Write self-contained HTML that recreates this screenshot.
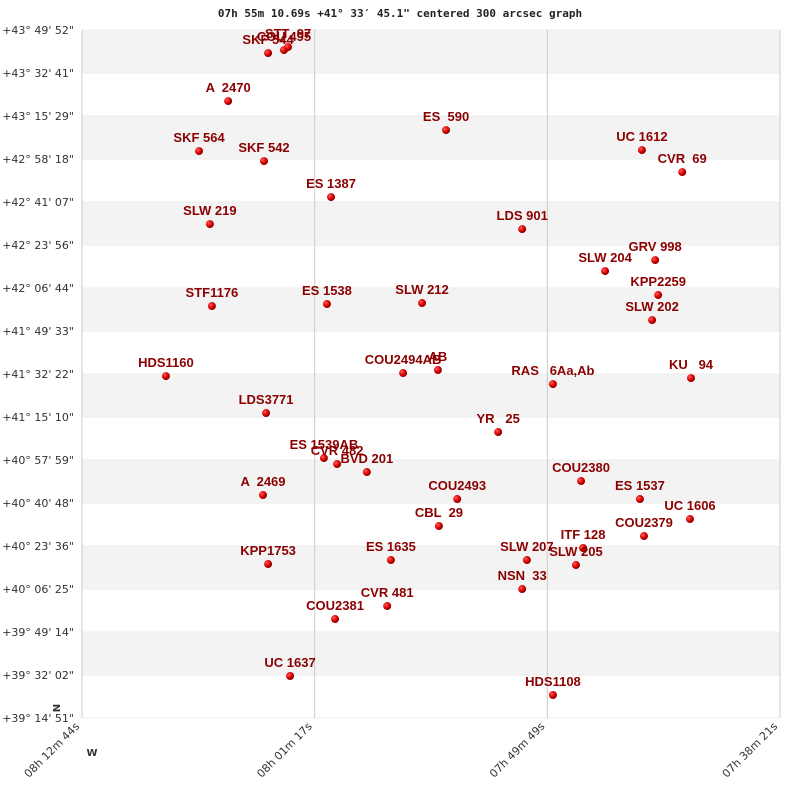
<!DOCTYPE html>
<html><head><meta charset="utf-8"><style>
body{margin:0;background:#fff;width:800px;height:800px;overflow:hidden}
svg text{font-family:"DejaVu Sans","Liberation Sans",sans-serif}
.lbl{font-family:"Liberation Sans",sans-serif;font-weight:bold;font-size:13px;fill:#8b0000;white-space:pre}
.tick{font-size:11px;fill:#333}
</style></head><body>
<svg id="chart" width="800" height="800" xmlns="http://www.w3.org/2000/svg">
<defs><radialGradient id="g" cx="35%" cy="35%" r="65%"><stop offset="0" stop-color="#ff6060"/><stop offset="0.6" stop-color="#dd0000"/><stop offset="1" stop-color="#880000"/></radialGradient></defs>
<text x="400" y="17" text-anchor="middle" style="font-family:'DejaVu Sans Mono','Liberation Mono',monospace;font-weight:bold;font-size:11px" fill="#222">07h 55m 10.69s +41° 33′ 45.1" centered 300 arcsec graph</text>
<g id="bands"></g><g id="grid"></g><g id="marks"></g><g id="labels"></g>
<text x="0" y="0" transform="translate(60,708) rotate(-90)" text-anchor="middle" style="font-size:10px;font-weight:bold" fill="#333">N</text>
<text x="92" y="756" text-anchor="middle" style="font-size:10px;font-weight:bold" fill="#333">W</text>
</svg>
<script>
const yTicks=['+43° 49\' 52"','+43° 32\' 41"','+43° 15\' 29"','+42° 58\' 18"','+42° 41\' 07"','+42° 23\' 56"','+42° 06\' 44"','+41° 49\' 33"','+41° 32\' 22"','+41° 15\' 10"','+40° 57\' 59"','+40° 40\' 48"','+40° 23\' 36"','+40° 06\' 25"','+39° 49\' 14"','+39° 32\' 02"','+39° 14\' 51"'];
const xTicks=['08h 12m 44s','08h 01m 17s','07h 49m 49s','07h 38m 21s'];
const names=['SKF 544','COU 495','STT  97','A  2470','ES  590','UC 1612','CVR  69','SKF 564','SKF 542','ES 1387','SLW 219','LDS 901','GRV 998','SLW 204','KPP2259','SLW 202','STF1176','ES 1538','SLW 212','HDS1160','COU2494AB','AB','RAS   6Aa,Ab','KU   94','LDS3771','YR   25','ES 1539AB','CVR 482','BVD 201','COU2380','A  2469','COU2493','ES 1537','UC 1606','CBL  29','COU2379','ITF 128','SLW 207','SLW 205','KPP1753','ES 1635','NSN  33','CVR 481','COU2381','UC 1637','HDS1108'];
const raOff=[550,597,609,432,1076,1655,1774,346,538,736,378,1301,1694,1546,1703,1685,384,724,1005,248,949,1052,1392,1800,544,1230,715,754,842,1475,535,1109,1649,1797,1055,1661,1481,1315,1460,550,913,1301,902,748,615,1392];
const decOff=[15947,16019,16091,14796,14100,13621,13093,13597,13357,12494,11846,11726,10983,10719,10144,9544,9880,9928,9952,8201,8273,8345,8009,8153,7314,6858,6235,6091,5899,5683,5348,5252,5252,4772,4604,4364,4077,3789,3669,3693,3789,3093,2686,2374,1007,552];
const X0=82,X1=780,Y0=30,Y1=718,RAMAX=2063,DECMAX=16501;
const sx=v=>X0+v/RAMAX*(X1-X0), sy=v=>Y1-v/DECMAX*(Y1-Y0);
const NS='http://www.w3.org/2000/svg';
function mk(t,a,p){const e=document.createElementNS(NS,t);for(const k in a)e.setAttribute(k,a[k]);p.appendChild(e);return e;}
const bands=document.getElementById('bands'),grid=document.getElementById('grid'),marks=document.getElementById('marks'),labels=document.getElementById('labels');
const svg=document.getElementById('chart');
const n=yTicks.length-1,bh=(Y1-Y0)/n;
for(let i=0;i<n;i++){const r=mk('rect',{x:X0,y:Y0+i*bh,width:X1-X0,height:bh,fill:i%2?'#ffffff':'#f3f3f3'},bands);

}
yTicks.forEach((t,i)=>{const y=Y0+i*bh;const l=mk('line',{x1:X0,x2:X1,y1:y,y2:y,stroke:'#ececec'},grid);


const tx=mk('text',{x:74,y:y+4,'text-anchor':'end',class:'tick'},svg);tx.textContent=t;

});
xTicks.forEach((t,i)=>{const x=X0+i*(X1-X0)/(xTicks.length-1);
const l=mk('line',{x1:x,x2:x,y1:Y0,y2:Y1,stroke:'#cccccc'},grid);


const tx=mk('text',{x:0,y:0,'text-anchor':'end',class:'tick',transform:`translate(${x-2},${Y1+9}) rotate(-45)`},svg);tx.textContent=t;

});
names.forEach((nm,i)=>{const x=sx(raOff[i]),y=sy(decOff[i]);
const c=mk('circle',{cx:x,cy:y,r:4,fill:'url(#g)'},marks);


const t=mk('text',{x:x,y:y-9,'text-anchor':'middle',class:'lbl'},labels);t.textContent=nm;

});
</script>
</body></html>
